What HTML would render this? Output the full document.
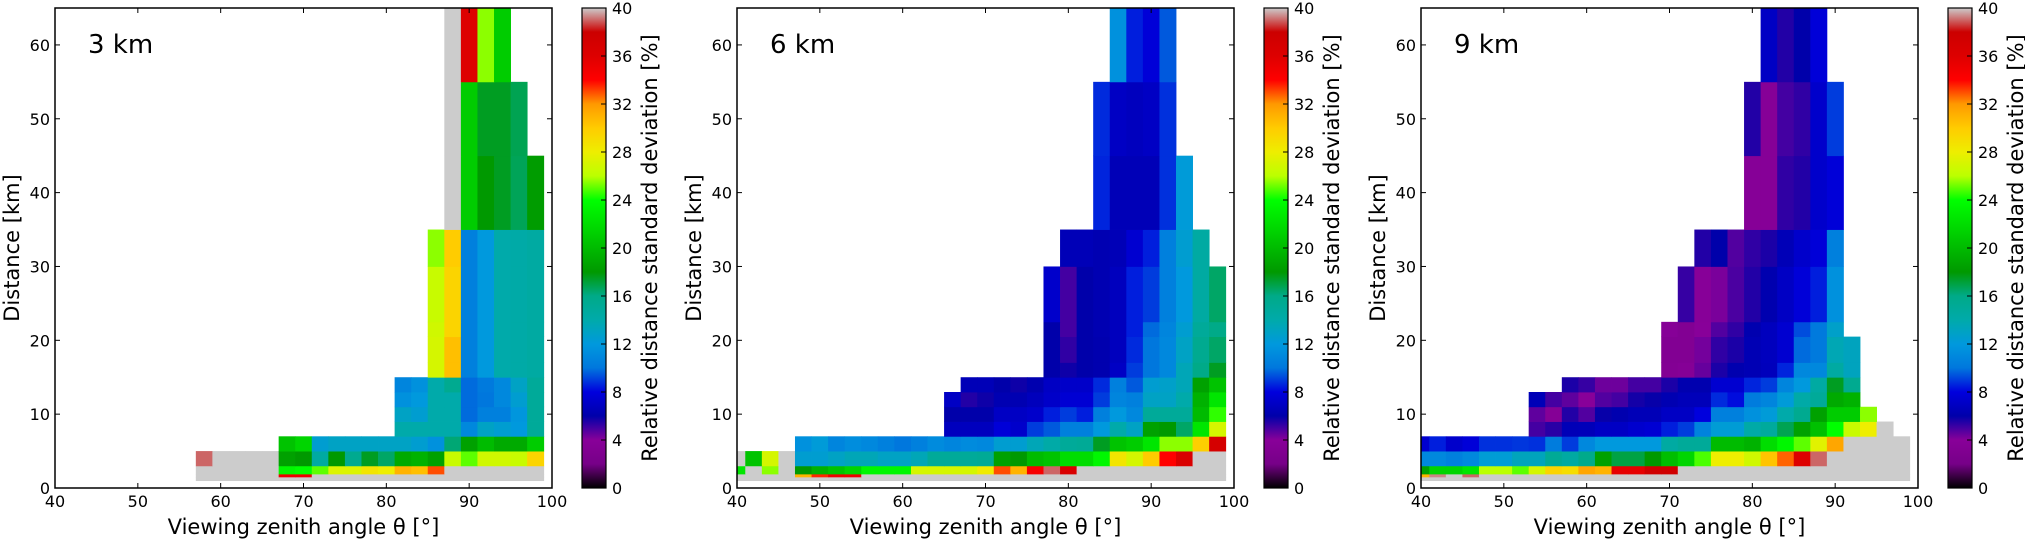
<!DOCTYPE html>
<html><head><meta charset="utf-8">
<style>
html,body{margin:0;padding:0;background:#fff;}
svg{display:block;font-family:"DejaVu Sans","Liberation Sans",sans-serif;}
</style></head>
<body>
<svg id="fig" width="2025" height="541" viewBox="0 0 2025 541" xmlns="http://www.w3.org/2000/svg"></svg>
<script>
// ---- shared bin edges (data) ----
const rowEdges = [1,1.5,1.9,3,5,7,9,11,13,15,17,20.5,22.5,30,35,45,55,65];
const xTicks = [40,50,60,70,80,90,100];
const yTicks = [0,10,20,30,40,50,60];
const cbTicks = [0,4,8,12,16,20,24,28,32,36,40];
const panelTitles = ["3 km","6 km","9 km"];
const G = 41; // masked (gray)

// ---- panel 1 (3 km): start angle per row and values per 2° bin ----
const p1Start = [57,57,57,57,67,81,81,81,81,85,85,85,85,85,87,87,87];
const p1Vals = [
 [G,G,G,G,G,G,G,G,G,G,G,G,G,G,G,G,G,G,G,G,G],
 [G,G,G,G,G,35,35,G,G,G,G,G,G,G,G,G,G,G,G,G,G],
 [G,G,G,G,G,23.5,24,25,27.3,27.3,28.5,28,31,30.5,33,G,G,G,G,G,G],
 [39,G,G,G,G,18.5,18,14.5,18,15.5,17.5,16.5,19,19.5,18.5,26.5,25,26.8,26.8,26.5,29.5],
 [20.5,21.5,12.5,13,13,13,13,13,12.5,11.5,16.3,18.5,20,19,19,21],
 [14,14,14,14,11,13,12.5,12,15],
 [13,12.5,14,14,9.8,10.5,10.5,11.8,15],
 [11.5,12,14,14,9.8,10,11,12.5,15],
 [10.8,11.5,14,15.5,9.8,10.2,11,13,15],
 [27,30.5,10.5,12,14,14.2,14.5],
 [27,30.5,10.5,12,14,14.2,14.5],
 [26.8,29.5,10.5,12,14,14.2,14.5],
 [26.5,29.5,10.5,12,14,14.2,14.5],
 [25.5,30,10.5,12,14,14.2,14.5],
 [G,21,18,17.5,16.7,18.2],
 [G,21,17.5,17.5,16.8],
 [G,36,25.5,21]
];

// ---- panel 2 (6 km) ----
const p2Start = [39,39,39,39,47,65,65,65,67,77,77,77,77,79,83,83,85];
const p2Vals = [
 [G,G,G,G,G,G,G,G,G,G,G,G,G,G,G,G,G,G,G,G,G,G,G,G,G,G,G,G,G,G],
 [G,G,G,G,31,33.5,35,35,G,G,G,G,G,G,G,G,G,G,G,G,G,G,G,G,G,G,G,G,G,G],
 [22.5,G,25.5,G,18,19.5,20.5,21.5,23.5,23.5,23.5,27,27,27,27,28.2,33,31,34.5,39,36.5,G,G,G,G,G,G,G,G,G],
 [G,20.5,27,G,12.5,12.5,13,13.5,13.5,13,13,13.5,15,15,15,15.2,18.5,18,20,20.5,22,22,23.5,28.5,27,30,34,36.5,G,G],
 [11.5,12.2,10.8,11.3,11,10.5,10,10.5,11.2,10.8,11.2,11,12.5,12.5,13.5,14.2,15,15.2,17.5,20.5,21,22.5,25.5,25.5,29.8,37],
 [6.8,6.8,6.8,7.8,7.3,9,9.5,10.5,10.5,12,14,13,18.5,18,16.5,22.5,27],
 [6,6,6,7,7,7.3,8.5,9,8.5,10.5,12,11,15,15,15,20,24.5],
 [7,5.5,5.8,6.3,6.3,6.7,7.2,7.6,7.6,9,10.8,10.5,13,13,14,19.5,22.5],
 [6.5,6.5,6,5.8,6.2,7,7.2,7.2,8.7,10.5,9.5,12.5,12.8,13.5,18.5,20.5],
 [6,5.8,6,6.2,7,9,10,11,13.5,16,17.5],
 [6,5.3,6,6.2,6.8,8.7,10,11,13,15.5,16.5],
 [6,5,6,6.3,6.8,8.5,9.8,10.8,12.5,15,16],
 [7.3,5,6,6.3,6.8,8.5,9,10.5,12,14.5,16.5],
 [6.5,6.5,6.3,6.5,7.5,8.5,10.5,12.5,14.5],
 [8.6,6.5,6.5,6.5,8.8,12.2],
 [8.7,7,6.8,7,8.8],
 [11.5,8.5,7.8,9.5]
];

// ---- panel 3 (9 km) ----
const p3Start = [39,39,39,39,39,53,53,53,57,69,69,69,71,73,79,79,81];
const p3Vals = [
 [G,G,G,G,G,G,G,G,G,G,G,G,G,G,G,G,G,G,G,G,G,G,G,G,G,G,G,G,G,G],
 [31,39.3,G,39,G,G,G,G,G,G,G,G,G,G,G,G,G,G,G,G,G,G,G,G,G,G,G,G,G,G],
 [18.5,21.5,21.5,22.5,26,26,25,27,29.5,29,31.5,31,35.5,35.5,37.5,37.5,G,G,G,G,G,G,G,G,G,G,G,G,G,G],
 [11,11,10.5,11,12.3,12.3,13.3,13.3,15.2,14.5,15.8,18.5,17,17,18,20.2,21.5,24.8,28,28,26.8,30.3,32.7,36,39,G,G,G,G,G],
 [7.5,8.5,7.3,7.8,8.8,8.8,8.9,8.8,10.3,9,11,12,12,12,12,14.5,15,15,20,20,19.5,22,23.5,25,27.5,31.5,G,G,G,G],
 [5,5.4,6.5,6.6,7,7,7.4,7.6,8.5,9,10.7,12.3,12.3,14.2,14.8,16.8,18.5,20.3,24,26.5,28,G],
 [4.6,3.7,5.5,4.8,5.9,6.2,6.5,6.5,7,7,8,10.5,10.5,11.5,12.2,14,15.5,18.5,21,21,25.5],
 [6.5,5,4.6,4,4.8,5,5.7,5.9,6.3,6.6,6.6,8.7,8.2,10.3,10.8,12.2,14.2,15,19,19.5],
 [5.6,5.2,4.4,4.4,5,5,5.6,6.2,6.2,7.5,7.5,8.6,9,10.8,12,14.5,17.5,15.5],
 [3.4,3.7,4.5,5.6,6.2,6.4,6.7,8.6,11,11,14.5,13.2],
 [3.3,3.3,4.3,5.3,5.6,6.4,6.8,7.5,9.8,10.2,13.6,13.2],
 [3.8,3.3,4,4.8,5.3,6.2,6.8,7.5,9.3,10.2,12.8],
 [5.2,3.9,4.2,4.9,5.5,6.2,7,7.8,8.5,11.5],
 [5.5,6,4.8,5.3,5.6,6.5,7.3,7.8,10.5],
 [3.8,3.8,5.3,5.5,7.3,7.8],
 [5.5,3.8,5,5.3,7.3,9],
 [7,5.5,6,7.8]
];

const panels = [
 {left:55, start:p1Start, vals:p1Vals},
 {left:737, start:p2Start, vals:p2Vals},
 {left:1421, start:p3Start, vals:p3Vals}
];

// nipy_spectral colormap
const cmR=[0,.4667,.5333,0,0,0,0,0,0,0,0,0,0,.7333,.9333,1,1,1,.8667,.8,.8];
const cmG=[0,0,0,0,0,.4667,.6,.6667,.6667,.6,.7333,.8667,1,1,.9333,.8,.6,0,0,0,.8];
const cmB=[0,.5333,.6,.6667,.8667,.8667,.8667,.6667,.5333,0,0,0,0,0,0,0,0,0,0,0,.8];
function cmap(v){
  let t=Math.max(0,Math.min(1,v/40));
  let f=t*20, i=Math.min(19,Math.floor(f)), u=f-i;
  const c=a=>Math.round(255*(a[i]+(a[i+1]-a[i])*u));
  return `rgb(${c(cmR)},${c(cmG)},${c(cmB)})`;
}

const NS="http://www.w3.org/2000/svg";
const svg=document.getElementById('fig');
function mk(tag,attrs,parent){const e=document.createElementNS(NS,tag);for(const k in attrs)e.setAttribute(k,attrs[k]);(parent||svg).appendChild(e);return e;}

const PW=497, TOP=8, BOT=488;
const defs=mk('defs',{});
const grad=mk('linearGradient',{id:'cbg',x1:0,y1:1,x2:0,y2:0},defs);
for(let k=0;k<=80;k++){mk('stop',{offset:(k/80),'stop-color':cmap(k/2)},grad);}

panels.forEach((P,pi)=>{
  const xs=v=>P.left+(v-40)/60*PW;
  const ys=d=>BOT-(d/65)*(BOT-TOP);
  const g=mk('g',{});
  
  
  const cells=mk('g',{},g);
  
  
  P.vals.forEach((row,ri)=>{
    row.forEach((v,ci)=>{
      if(v==null)return;
      let a=P.start[ri]+2*ci, b=a+2;
      a=Math.max(a,40); b=Math.min(b,100);
      if(b<=a)return;
      const x0=xs(a), x1=xs(b), y0=ys(rowEdges[ri+1]), y1=ys(rowEdges[ri]);
      const r=mk('rect',{x:x0.toFixed(2),y:y0.toFixed(2),width:(x1-x0+0.4).toFixed(2),height:(y1-y0+0.4).toFixed(2),fill:v>=40?'#cccccc':cmap(v)},cells);
      
      
    });
  });
  const fr=mk('rect',{x:P.left,y:TOP,width:PW,height:BOT-TOP,fill:'none',stroke:'#000','stroke-width':1.5},g);
  
  
  xTicks.forEach(t=>{
    const x=xs(t);
    mk('line',{x1:x,y1:BOT,x2:x,y2:BOT-5,stroke:'#000','stroke-width':1},g);
    mk('line',{x1:x,y1:TOP,x2:x,y2:TOP+5,stroke:'#000','stroke-width':1},g);
    const tx=mk('text',{x:x,y:507,'font-size':16,'text-anchor':'middle'},g);
    tx.textContent=t;
    
    
  });
  yTicks.forEach(t=>{
    const y=ys(t);
    mk('line',{x1:P.left,y1:y,x2:P.left+5,y2:y,stroke:'#000','stroke-width':1},g);
    mk('line',{x1:P.left+PW,y1:y,x2:P.left+PW-5,y2:y,stroke:'#000','stroke-width':1},g);
    const tx=mk('text',{x:P.left-5,y:y+6,'font-size':16,'text-anchor':'end'},g);
    tx.textContent=t;
    
    
  });
  const tt=mk('text',{x:P.left+33,y:53,'font-size':26},g);
  tt.textContent=panelTitles[pi];
  
  
  const xl=mk('text',{x:P.left+PW/2,y:534,'font-size':21,'text-anchor':'middle'},g);
  xl.textContent='Viewing zenith angle \u03B8 [\u00B0]';
  
  
  const yl=mk('text',{x:0,y:0,'font-size':21,'text-anchor':'middle',transform:`translate(${P.left-36},${(TOP+BOT)/2}) rotate(-90)`},g);
  yl.textContent='Distance [km]';
  
  
  const cx=P.left+527, cw=24;
  const cb=mk('rect',{x:cx,y:TOP,width:cw,height:BOT-TOP,fill:'url(#cbg)',stroke:'#000','stroke-width':1.2},g);
  
  
  cbTicks.forEach(t=>{
    const y=BOT-(t/40)*(BOT-TOP);
    mk('line',{x1:cx+cw,y1:y,x2:cx+cw-5,y2:y,stroke:'#000','stroke-width':1},g);
    const tx=mk('text',{x:cx+cw+6,y:y+6,'font-size':16},g);
    tx.textContent=t;
    
    
  });
  const cl=mk('text',{x:0,y:0,'font-size':21,'text-anchor':'middle',transform:`translate(${cx+75},${(TOP+BOT)/2}) rotate(-90)`},g);
  cl.textContent='Relative distance standard deviation [%]';
  
  
});
</script>
</body></html>
